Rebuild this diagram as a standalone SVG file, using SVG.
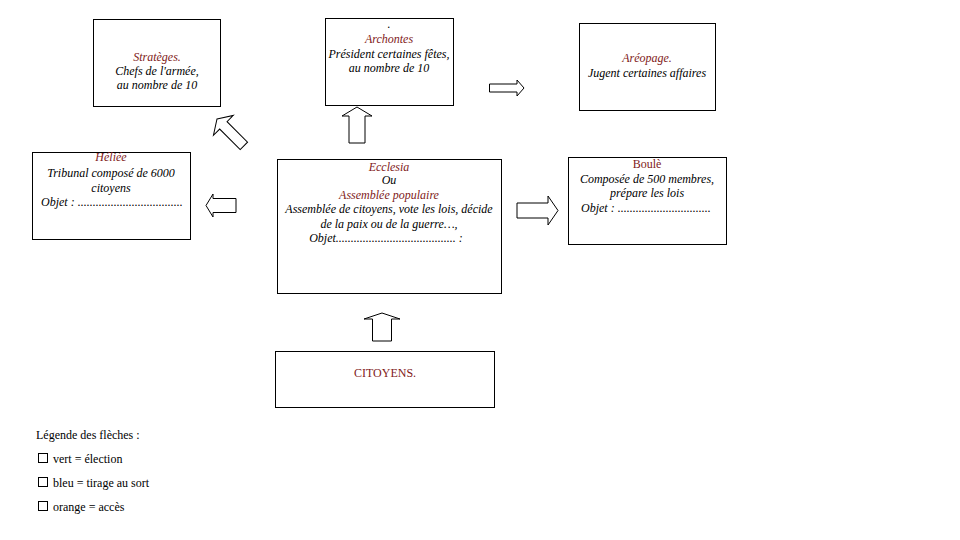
<svg xmlns="http://www.w3.org/2000/svg" width="960" height="540" viewBox="0 0 960 540">
<style>
.box{fill:#fff;stroke:#000;stroke-width:1}
.arr{fill:#fff;stroke:#000;stroke-width:1;stroke-linejoin:miter}
text{font-family:'Liberation Serif','Times New Roman','DejaVu Serif',serif;font-size:12px;fill:#000}
.it{font-style:italic}
.t{fill:#7f1a1a}
.c{text-anchor:middle}
.chk{fill:none;stroke:#000;stroke-width:1}
</style>
<rect width="960" height="540" fill="#fff"/>

<g id="connectors">
<path class="arr" d="M357,107 L372,116 L365,116 L365,143 L349,143 L349,116 L342,116 Z"/>
<path class="arr" d="M382,313 L400,319 L391.5,319 L391.5,341 L372.5,341 L372.5,319 L364,319 Z"/>
<path class="arr" transform="translate(217,119) rotate(-45)" d="M0,0 L14,9 L5.2,9 L5.2,38 L-5.2,38 L-5.2,9 L-14,9 Z"/>
<path class="arr" d="M206,205.5 L213,194 L213,198.5 L236,198.5 L236,212.5 L213,212.5 L213,217 Z"/>
<path class="arr" d="M524,88 L517,80 L517,84 L489.5,84 L489.5,92 L517,92 L517,96 Z"/>
<path class="arr" d="M558,210.5 L548,196 L548,203 L517,203 L517,218 L548,218 L548,225 Z"/>
</g>

<g id="strateges">
<rect class="box" x="93.5" y="19.5" width="127" height="87"/>
<text class="it t c" x="157" y="61" font-family="Liberation Serif, serif">Stratèges.</text>
<text class="it c" x="157" y="75" font-family="Liberation Serif, serif">Chefs de l'armée,</text>
<text class="it c" x="157" y="89" font-family="Liberation Serif, serif">au nombre de  10</text>
</g>

<g id="archontes">
<rect class="box" x="325.5" y="18.5" width="128" height="87"/>
<text class="it c" x="389" y="28" font-family="Liberation Serif, serif">.</text>
<text class="it t c" x="389" y="43" font-family="Liberation Serif, serif">Archontes</text>
<text class="it c" x="389" y="58" font-family="Liberation Serif, serif">Président certaines fêtes,</text>
<text class="it c" x="389" y="72" font-family="Liberation Serif, serif">au nombre de 10</text>
</g>

<g id="areopage">
<rect class="box" x="579.5" y="23.5" width="136" height="87"/>
<text class="it t c" x="647" y="62" font-family="Liberation Serif, serif">Aréopage.</text>
<text class="it c" x="647" y="77" font-family="Liberation Serif, serif">Jugent certaines affaires</text>
</g>

<g id="heliee">
<rect class="box" x="32.5" y="152.5" width="158" height="87"/>
<text class="it t c" x="111" y="161" font-family="Liberation Serif, serif" font-size="11">Héliée</text>
<text class="it c" x="111" y="177" font-family="Liberation Serif, serif">Tribunal composé de 6000</text>
<text class="it c" x="111" y="192" font-family="Liberation Serif, serif">citoyens</text>
<text class="it" x="41" y="206" font-family="Liberation Serif, serif">Objet : ...................................</text>
</g>

<g id="ecclesia">
<rect class="box" x="277.5" y="159.5" width="224" height="134"/>
<text class="it t c" x="389" y="171" font-family="Liberation Serif, serif">Ecclesia</text>
<text class="it c" x="389" y="184" font-family="Liberation Serif, serif">Ou</text>
<text class="it t c" x="389" y="199" font-family="Liberation Serif, serif">Assemblée populaire</text>
<text class="it c" x="389" y="213" font-family="Liberation Serif, serif">Assemblée de citoyens, vote les lois, décide</text>
<text class="it c" x="389" y="228" font-family="Liberation Serif, serif">de la paix ou de la guerre…,</text>
<text class="it c" x="386" y="242" font-family="Liberation Serif, serif">Objet........................................ :</text>
</g>

<g id="boule">
<rect class="box" x="568.5" y="157.5" width="158" height="87"/>
<text class="t c" x="647" y="168" font-family="Liberation Serif, serif">Boulè</text>
<text class="it c" x="647" y="183" font-family="Liberation Serif, serif">Composée de 500 membres,</text>
<text class="it c" x="647" y="197" font-family="Liberation Serif, serif">prépare les lois</text>
<text class="it" x="581" y="212" font-family="Liberation Serif, serif">Objet : ...............................</text>
</g>

<g id="citoyens">
<rect class="box" x="275.5" y="351.5" width="219" height="56"/>
<text class="t c" x="385" y="377" font-family="Liberation Serif, serif">CITOYENS.</text>
</g>

<g id="legende">
<text x="36" y="439" font-family="Liberation Serif, serif">Légende des flèches :</text>
<rect class="chk" x="38.5" y="453.5" width="9" height="9"/>
<text x="53" y="463" font-family="Liberation Serif, serif">vert = élection</text>
<rect class="chk" x="38.5" y="477.5" width="9" height="9"/>
<text x="53" y="487" font-family="Liberation Serif, serif">bleu = tirage au sort</text>
<rect class="chk" x="38.5" y="501.5" width="9" height="9"/>
<text x="53" y="511" font-family="Liberation Serif, serif">orange = accès</text>
</g>
</svg>
